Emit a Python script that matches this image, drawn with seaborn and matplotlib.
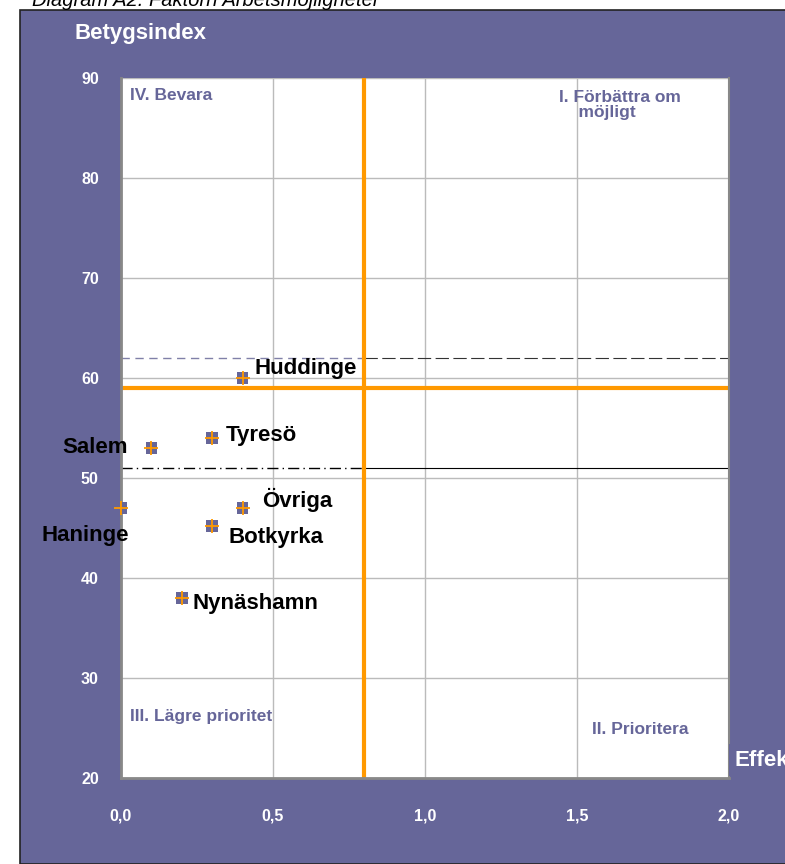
import matplotlib.pyplot as plt
import pandas as pd
import seaborn as sns
from matplotlib.patches import Rectangle

# data
names = ["Huddinge", "Tyresö", "Salem", "Haninge", "Övriga", "Botkyrka", "Nynäshamn"]
effect = [0.4, 0.3, 0.1, 0.0, 0.4, 0.3, 0.2]
score = [60, 54, 53, 47, 47, 45.2, 38]
x_ticks = [0.0, 0.5, 1.0, 1.5, 2.0]
x_tick_labels = ["0,0", "0,5", "1,0", "1,5", "2,0"]
y_ticks = [20, 30, 40, 50, 60, 70, 80, 90]
effect_split = 0.8
score_split = 59
upper_ref = 62
lower_ref = 51

# label offsets in pixels (dx, dy, ha)
label_pos = {
    "Huddinge": (12, 9, "left"),
    "Tyresö": (14, 2, "left"),
    "Salem": (-24, 0, "right"),
    "Haninge": (8, -28, "right"),
    "Övriga": (20, 8, "left"),
    "Botkyrka": (16, -12, "left"),
    "Nynäshamn": (11, -5, "left"),
}

PURPLE = "#666699"
ORANGE = "#FF9900"
FONT = ["Liberation Sans", "DejaVu Sans"]


def main() -> None:
    sns.set_theme(style="white")
    plt.rcParams["font.family"] = FONT

    df = pd.DataFrame({"Kommun": names, "Effekt": effect, "Betygsindex": score})

    fig = plt.figure(figsize=(7.85, 8.64), dpi=100)
    fig.patch.set_facecolor("white")
    fig.patches.append(Rectangle((20 / 785, 0), 780 / 785, 854 / 864, transform=fig.transFigure,
                                 facecolor=PURPLE, edgecolor="#222222", lw=1.2, zorder=-10))
    fig.text(32 / 785, 1.0, "Diagram A2. Faktorn Arbetsmöjligheter", fontsize=14.5, style="italic",
             va="center", ha="left", color="black")

    ax = fig.add_axes([121 / 785, 86 / 864, 608 / 785, 700 / 864])
    ax.set_facecolor("white")
    ax.set_xlim(0, 2)
    ax.set_ylim(20, 90)
    ax.set_xticks(x_ticks, x_tick_labels)
    ax.set_yticks(y_ticks)
    ax.tick_params(length=0, colors="white", labelsize=11.5)
    ax.tick_params(axis="x", pad=22)
    ax.tick_params(axis="y", pad=16)
    for lab in ax.get_xticklabels() + ax.get_yticklabels():
        lab.set_fontweight("bold")
    ax.grid(True, color="#BBBBBB", lw=1)
    ax.set_axisbelow(True)
    for side in ["left", "bottom", "right"]:
        ax.spines[side].set_color("#888888")
        ax.spines[side].set_linewidth(2)
    ax.spines["top"].set_visible(False)
    ax.spines["right"].set_linewidth(1.5)

    # reference lines
    ax.plot([0, effect_split], [upper_ref, upper_ref], color="#8080A8", lw=1, ls=(0, (6, 4)))
    ax.plot([effect_split, 2], [upper_ref, upper_ref], color="#333333", lw=0.8, ls=(0, (12, 4)))
    ax.plot([0, effect_split], [lower_ref, lower_ref], color="black", lw=1, ls=(0, (8, 3, 1, 3)))
    ax.plot([effect_split, 2], [lower_ref, lower_ref], color="black", lw=0.8)
    ax.axvline(effect_split, color=ORANGE, lw=3)
    ax.axhline(score_split, color=ORANGE, lw=3)

    sns.scatterplot(data=df, x="Effekt", y="Betygsindex", ax=ax, marker="s", s=70,
                    color=PURPLE, edgecolor="none", zorder=5, legend=False)
    sns.scatterplot(data=df, x="Effekt", y="Betygsindex", ax=ax, marker="+", s=90,
                    color=ORANGE, linewidth=1.3, zorder=6, legend=False, clip_on=False)

    for name, xv, yv in zip(names, effect, score):
        dx, dy, ha = label_pos[name]
        ax.annotate(name, (xv, yv), xytext=(dx, dy), textcoords="offset pixels",
                    ha=ha, va="center", fontsize=16, fontweight="bold", color="black",
                    annotation_clip=False, zorder=7)

    qkw = dict(fontsize=12.5, fontweight="bold", color=PURPLE, va="center")
    ax.text(0.03, 88.2, "IV. Bevara", ha="left", **qkw)
    ax.text(1.44, 87.3, "I. Förbättra om\n    möjligt", ha="left", linespacing=1.0, **qkw)
    ax.text(0.03, 26.1, "III. Lägre prioritet", ha="left", **qkw)
    ax.text(1.55, 24.9, "II. Prioritera", ha="left", **qkw)

    ax.set_xlabel("")
    ax.set_ylabel("")
    fig.text(75 / 785, 1 - 33 / 864, "Betygsindex", color="white", fontsize=16,
             fontweight="bold", va="center", ha="left")
    fig.text(735 / 785, 1 - 760 / 864, "Effekt", color="white", fontsize=16,
             fontweight="bold", va="center", ha="left",
             bbox=dict(facecolor=PURPLE, edgecolor="none", pad=4))

    fig.savefig("out.png", dpi=100)


if __name__ == "__main__":
    main()
